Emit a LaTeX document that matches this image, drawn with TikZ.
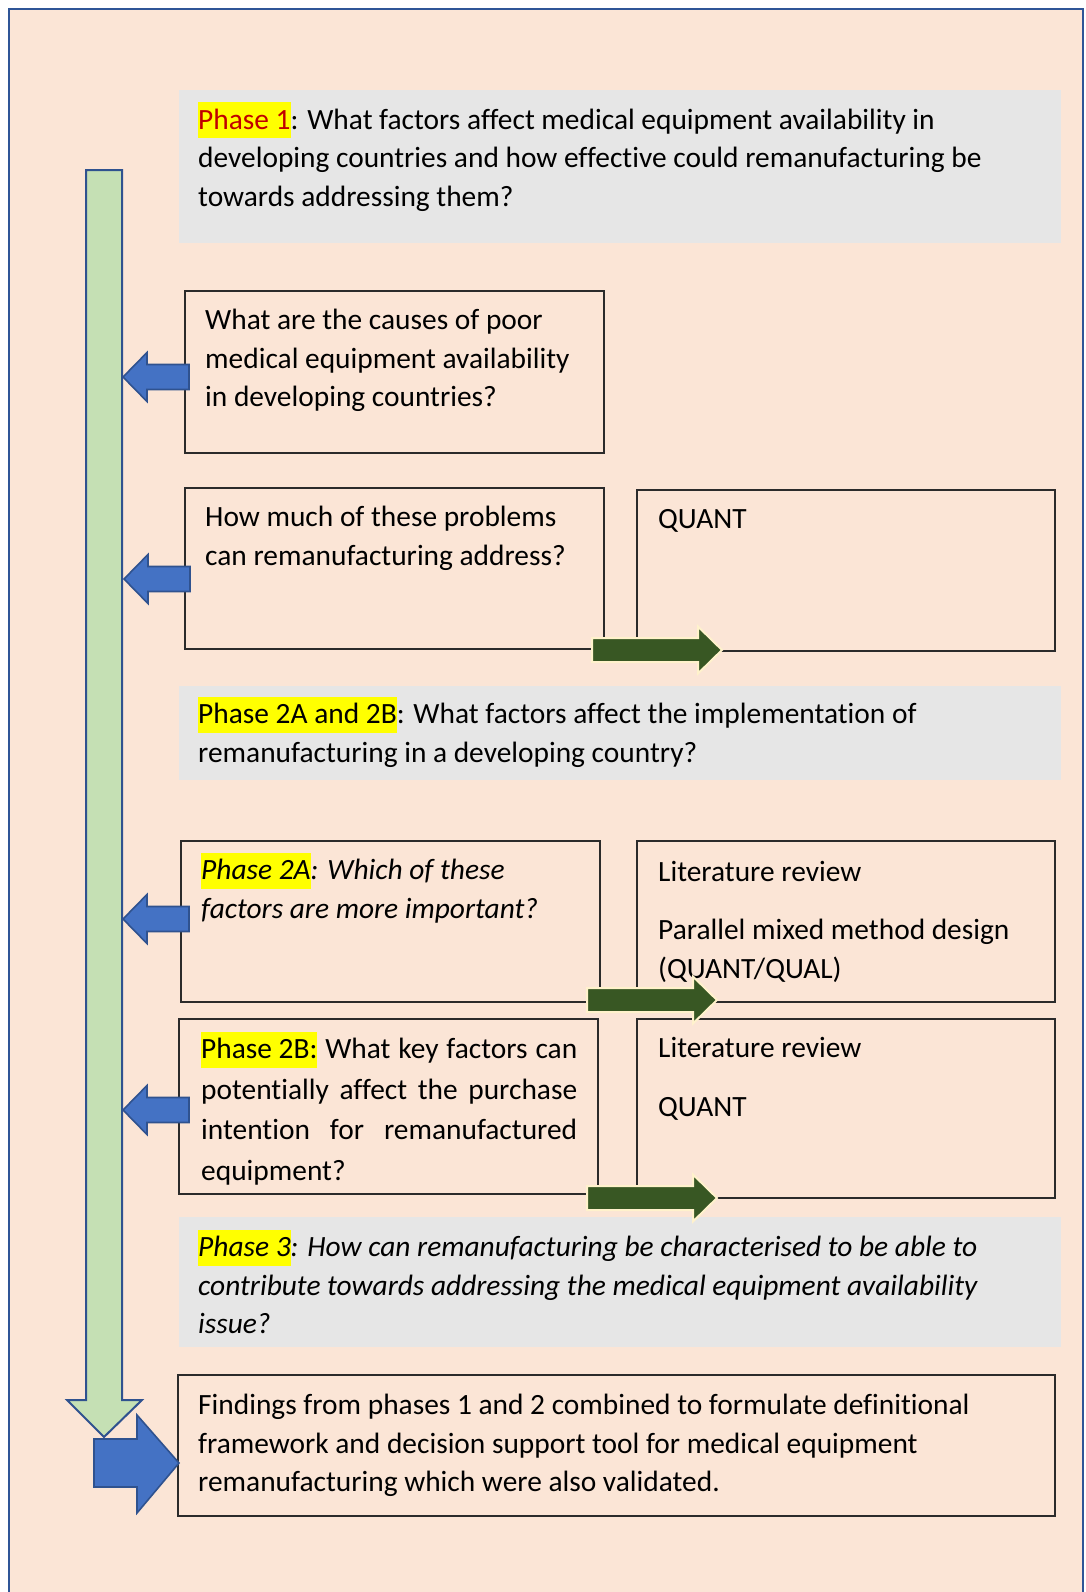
\documentclass[tikz,border=0pt]{standalone}
\usepackage{fontspec}
\setmainfont{Carlito}[Ligatures=NoCommon]
\definecolor{pagebg}{HTML}{FBE5D6}
\definecolor{framebl}{HTML}{2F5597}
\definecolor{panelgray}{HTML}{E6E6E6}
\definecolor{shaftgreen}{HTML}{C5E0B4}
\definecolor{arrowblue}{HTML}{4472C4}
\definecolor{arrowedge}{HTML}{2F528F}
\definecolor{darkgreen}{HTML}{385723}
\definecolor{cream}{HTML}{FFF2CC}
\definecolor{hlyellow}{HTML}{FFFF00}
\definecolor{phred}{HTML}{C00000}
\definecolor{boxline}{HTML}{2B2B2B}

% yellow text highlight
\newcommand\hlt[1]{{\setlength{\fboxsep}{0pt}\colorbox{hlyellow}{\rule[-9pt]{0pt}{36pt}#1}}}
% a block of lines whose reference point is the first baseline
\newcommand\textlines[2]{\parbox[t]{#1}{\raggedright #2}}

\tikzset{
  panel/.style={fill=panelgray},
  qbox/.style={draw=boxline, line width=1.3pt},
  txt/.style={anchor=base west, inner sep=0pt, yshift=-1.5pt, font=\fontsize{29.4}{38.5}\selectfont},
  bluearr/.style={fill=arrowblue, draw=arrowedge, line width=1.6pt, line join=miter},
  greenarr/.style={fill=darkgreen, draw=cream, line width=2pt, line join=miter},
  larrow/.pic={\draw[bluearr] (0,0) -- (24,-24.5) -- (24,-12.5) -- (66,-12.5)
      -- (66,12.5) -- (24,12.5) -- (24,24.5) -- cycle;},
  rarrow/.pic={\draw[greenarr] (0,-12) -- (106,-12) -- (106,-23.5) -- (130,0)
      -- (106,23.5) -- (106,12) -- (0,12) -- cycle;}
}

\begin{document}
\begin{tikzpicture}[x=1pt,y=-1pt]
\useasboundingbox (0,0) rectangle (1085,1592);
\clip (0,0) rectangle (1085,1592);
\fill[white] (0,0) rectangle (1085,1592);

% page frame, open at the bottom
\fill[pagebg] (9,9) rectangle (1083,1600);
\draw[framebl, line width=2.5pt] (9,1600) -- (9,9) -- (1083,9) -- (1083,1600);

% grey phase panels
\fill[panel] (179,90) rectangle (1061,243);
\fill[panel] (179,686) rectangle (1061,780);
\fill[panel] (179,1217) rectangle (1061,1347);

% long downward arrow
\draw[fill=shaftgreen, draw=arrowedge, line width=2pt, line join=miter]
  (86,170) -- (122,170) -- (122,1400) -- (142,1400) -- (104,1437)
  -- (67,1400) -- (86,1400) -- cycle;

% question and method boxes
\draw[qbox] (185,291) rectangle (604,453);
\draw[qbox] (185,488) rectangle (604,649);
\draw[qbox] (637,490) rectangle (1055,651);
\draw[qbox] (181,841) rectangle (600,1002);
\draw[qbox] (637,841) rectangle (1055,1002);
\draw[qbox] (179,1019) rectangle (598,1194);
\draw[qbox] (637,1019) rectangle (1055,1198);
\draw[qbox] (178,1375) rectangle (1055,1516);

% texts
\node[txt] (p1) at (198,128) {\textlines{860pt}{\hlt{\textcolor{phred}{Phase 1}}: What factors affect medical equipment availability in\\
developing countries and how effective could remanufacturing be\\
towards addressing them?}};

\node[txt] (q1) at (205,328) {\textlines{400pt}{What are the causes of poor\\
medical equipment availability\\
in developing countries?}};

\node[txt] (q2) at (205,525) {\textlines{400pt}{How much of these problems\\
can remanufacturing address?}};

\node[txt] (m1) at (658,527) {QUANT};

\node[txt] (p2) at (198,722) {\textlines{860pt}{\hlt{Phase 2A and 2B}: What factors affect the implementation of\\
remanufacturing in a developing country?}};

\node[txt] (q3) at (201,878) {\textlines{400pt}{\itshape\hlt{Phase 2A}: Which of these\\
factors are more important?}};

\node[txt] (m2) at (658,880) {\textlines{400pt}{Literature review\\[19.5pt]
Parallel mixed method design\\
(QUANT/QUAL)}};

\node[txt] (q4) at (201,1057) {\parbox[t]{376pt}{\baselineskip=40.5pt
\makebox[376pt][s]{\hlt{Phase 2B:} What key factors can}\\
\makebox[376pt][s]{potentially affect the purchase}\\
\makebox[376pt][s]{intention for remanufactured}\\
equipment?}};

\node[txt] (m3) at (658,1056) {\textlines{400pt}{Literature review\\[20pt]
QUANT}};

\node[txt] (p3) at (198,1255) {\textlines{860pt}{\itshape\hlt{Phase 3}: How can remanufacturing be characterised to be able to\\
contribute towards addressing the medical equipment availability\\
issue?}};

\node[txt] (f1) at (198,1413) {\textlines{860pt}{Findings from phases 1 and 2 combined to formulate definitional\\
framework and decision support tool for medical equipment\\
remanufacturing which were also validated.}};

% arrows pointing back to the long arrow
\pic at (123,377) {larrow};
\pic at (124,579) {larrow};
\pic at (123,919) {larrow};
\pic at (123,1110) {larrow};

% arrows from questions to methods
\pic at (592,650) {rarrow};
\pic at (587,1000) {rarrow};
\pic at (587,1198) {rarrow};

% final outcome arrow
\draw[bluearr] (94,1439) -- (137,1439) -- (137,1415) -- (179,1463)
  -- (137,1513) -- (137,1487) -- (94,1487) -- cycle;
\end{tikzpicture}
\end{document}
